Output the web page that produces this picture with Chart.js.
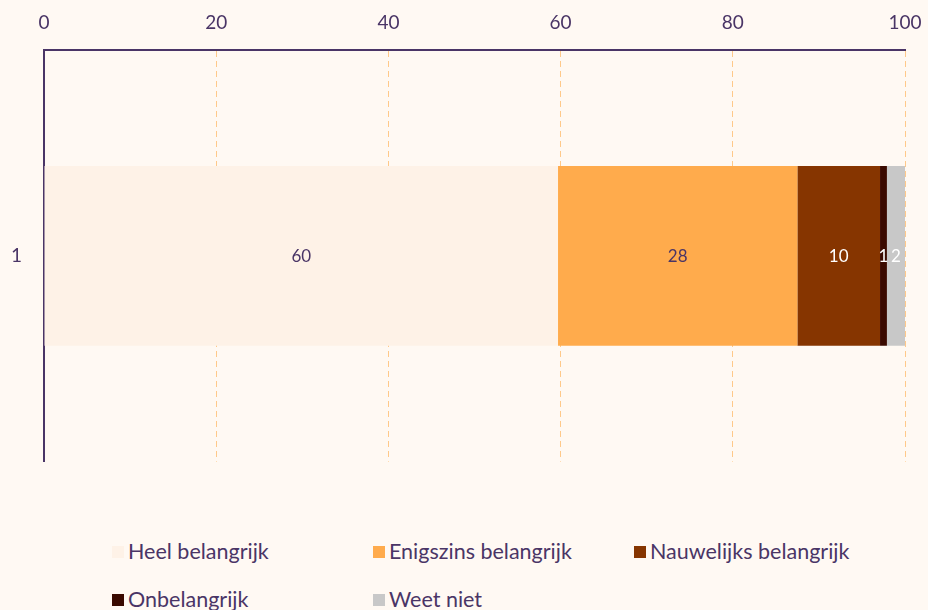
<!DOCTYPE html>
<html>
<head>
<meta charset="utf-8">
<script src="https://cdn.jsdelivr.net/npm/chart.js@4"></script>
<style>
  body { margin: 0; background: #fff9f3; font-family: Lato, sans-serif; overflow: hidden; }
  #wrap { position: relative; width: 928px; height: 495px; }
  #legend { position: absolute; left: 112px; top: 538px; width: 800px; }
  .item { position: absolute; font-size: 21.5px; color: #4a3566; white-space: nowrap; }
  .item span.box { display: inline-block; width: 12px; height: 12px; margin-right: 4px; vertical-align: 1px; }
</style>
</head>
<body>
<div id="wrap"><canvas id="c"></canvas></div>
<div id="legend"></div>
<script>
var categories = ["1"];
var seriesNames = ["Heel belangrijk", "Enigszins belangrijk", "Nauwelijks belangrijk", "Onbelangrijk", "Weet niet"];
var seriesValues = [[59.7], [27.8], [9.6], [0.8], [2.1]];
var seriesLabels = ["60", "28", "10", "1", "2"];
var seriesColors = ["#fef2e7", "#ffab4c", "#863500", "#3a0a00", "#c8c8c8"];
var labelColors = ["#4a3566", "#4a3566", "#ffffff", "#ffffff", "#ffffff"];
var xTicks = [0, 20, 40, 60, 80, 100];

var purple = "#4a3566";

var datasets = [];
for (var i = 0; i < seriesNames.length; i++) {
  datasets.push({
    label: seriesNames[i],
    data: seriesValues[i],
    backgroundColor: seriesColors[i],
    barPercentage: 0.546,
    categoryPercentage: 0.8
  });
}

// draw value labels in the middle of each segment
var valueLabels = {
  id: "valueLabels",
  afterDatasetsDraw: function(chart) {
    var ctx = chart.ctx;
    ctx.save();
    ctx.font = "17px Lato";
    ctx.textAlign = "center";
    ctx.textBaseline = "middle";
    chart.data.datasets.forEach(function(ds, i) {
      chart.getDatasetMeta(i).data.forEach(function(bar) {
        var p = bar.getProps(["x", "y", "base"], true);
        ctx.fillStyle = labelColors[i];
        ctx.fillText(seriesLabels[i], (p.x + p.base) / 2, p.y + 1);
      });
    });
    ctx.restore();
  }
};

new Chart(document.getElementById("c"), {
  type: "bar",
  data: { labels: categories, datasets: datasets },
  plugins: [valueLabels],
  options: {
    indexAxis: "y",
    responsive: true,
    maintainAspectRatio: false,
    animation: false,
    layout: { padding: { right: 23, bottom: 15 } },
    plugins: { legend: { display: false }, tooltip: { enabled: false } },
    scales: {
      x: {
        position: "top",
        stacked: true,
        min: 0,
        max: 100,
        afterBuildTicks: function(s) { s.ticks = xTicks.map(function(v) { return { value: v }; }); },
        afterFit: function(s) { s.height = 50; s.paddingRight = 0; s.paddingLeft = 0; },
        ticks: { color: purple, font: { family: "Lato", size: 19 }, padding: 16 },
        grid: { color: "#ffc98a", drawTicks: false, lineWidth: 1 },
        border: { color: purple, width: 2, dash: [6, 4] }
      },
      y: {
        stacked: true,
        afterFit: function(s) { s.width = 44; },
        ticks: { color: purple, font: { family: "Lato", size: 19 }, padding: 22 },
        grid: { display: true, drawOnChartArea: false, drawTicks: false },
        border: { color: purple, width: 2 }
      }
    }
  }
});

// legend laid out on a fixed column grid
var legend = document.getElementById("legend");
for (var j = 0; j < seriesNames.length; j++) {
  var d = document.createElement("div");
  d.className = "item";
  d.style.left = (j % 3) * 261 + "px";
  d.style.top = Math.floor(j / 3) * 48 + "px";
  d.innerHTML = '<span class="box" style="background:' + seriesColors[j] + '"></span>' + seriesNames[j];
  legend.appendChild(d);
}
</script>
</body>
</html>
